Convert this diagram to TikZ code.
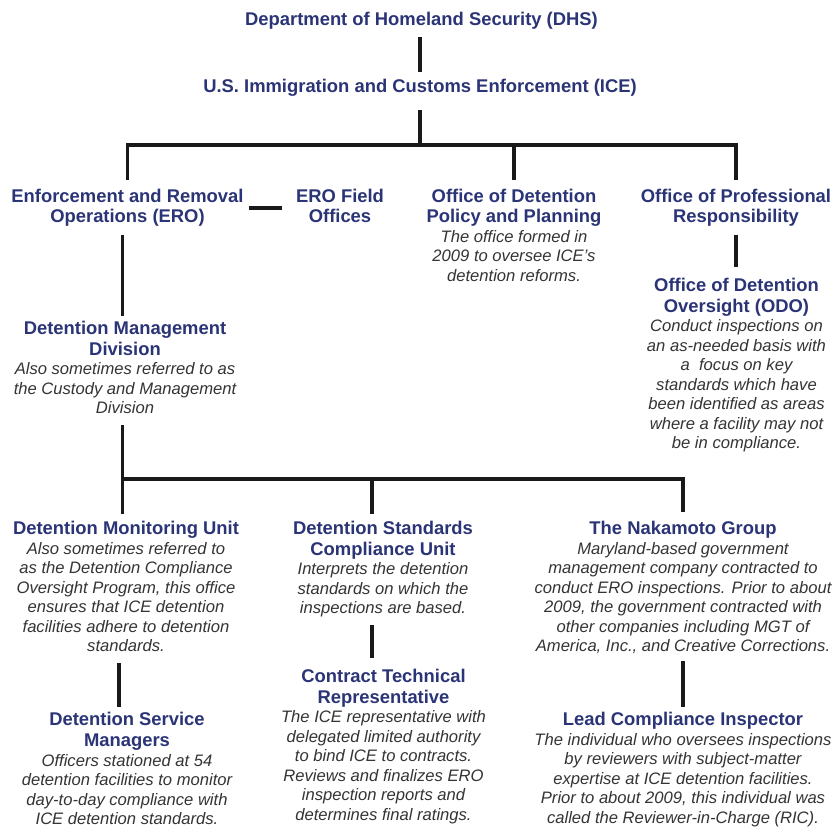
\documentclass[tikz,border=0pt]{standalone}
\usepackage{fontspec}
\setmainfont{Liberation Sans}
\definecolor{navy}{RGB}{42,52,118}
\definecolor{descgray}{RGB}{52,52,52}
\definecolor{linecol}{RGB}{25,25,25}
\newcommand\unittitle[1]{{\fontsize{18.4}{20.7}\selectfont\bfseries\upshape\color{navy}#1}}
\tikzset{
  unit/.style={align=center, inner sep=0pt, outer sep=0pt, anchor=north,
    font=\fontsize{16.6}{19.5}\selectfont\itshape, text=descgray},
  link/.style={draw=linecol, line width=3.8pt, line join=miter}
}
\begin{document}
\begin{tikzpicture}[x=1pt,y=-1pt]
\useasboundingbox[fill=white] (0,0) rectangle (837,828);

\node[unit] (dhs) at (421.5,11.8) {\unittitle{Department of Homeland Security (DHS)}};
\node[unit] (ice) at (420,78.8) {\unittitle{U.S. Immigration and Customs Enforcement (ICE)}};
\node[unit] (ero) at (127.5,188.8) {\unittitle{Enforcement and Removal}\\[1.2pt]\unittitle{Operations (ERO)}};
\node[unit] (fo) at (340,188.8) {\unittitle{ERO Field}\\[1.2pt]\unittitle{Offices}};
\node[unit] (odpp) at (514,188.8) {\unittitle{Office of Detention}\\[1.2pt]\unittitle{Policy and Planning}\\The office formed in\\2009 to oversee ICE’s\\detention reforms.};
\node[unit] (opr) at (736,188.8) {\unittitle{Office of Professional}\\[1.2pt]\unittitle{Responsibility}};
\node[unit] (odo) at (736.5,278.4) {\unittitle{Office of Detention}\\[1.2pt]\unittitle{Oversight (ODO)}\\Conduct inspections on\\an as-needed basis with\\a\ \ focus on key\\standards which have\\been identified as areas\\where a facility may not\\be in compliance.};
\node[unit] (dmd) at (125,321.4) {\unittitle{Detention Management}\\[1.2pt]\unittitle{Division}\\Also sometimes referred to as\\the Custody and Management\\Division};
\node[unit] (dmu) at (126,521.4) {\unittitle{Detention Monitoring Unit}\\Also sometimes referred to\\as the Detention Compliance\\Oversight Program, this office\\ensures that ICE detention\\facilities adhere to detention\\standards.};
\node[unit] (dscu) at (383,521.4) {\unittitle{Detention Standards}\\[1.2pt]\unittitle{Compliance Unit}\\Interprets the detention\\standards on which the\\inspections are based.};
\node[unit] (tng) at (683,521.4) {\unittitle{The Nakamoto Group}\\Maryland-based government\\management company contracted to\\conduct ERO inspections. Prior to about\\2009, the government contracted with\\other companies including MGT of\\America, Inc., and Creative Corrections.};
\node[unit] (dsm) at (127,712.6) {\unittitle{Detention Service}\\[1.2pt]\unittitle{Managers}\\Officers stationed at 54\\detention facilities to monitor\\day-to-day compliance with\\ICE detention standards.};
\node[unit] (ctr) at (383.5,669.4) {\unittitle{Contract Technical}\\[1.2pt]\unittitle{Representative}\\The ICE representative with\\delegated limited authority\\to bind ICE to contracts.\\Reviews and finalizes ERO\\inspection reports and\\determines final ratings.};
\node[unit] (lci) at (683,712.6) {\unittitle{Lead Compliance Inspector}\\The individual who oversees inspections\\by reviewers with subject-matter\\expertise at ICE detention facilities.\\Prior to about 2009, this individual was\\called the Reviewer-in-Charge (RIC).};

\coordinate (tb) at (420,145);
\coordinate (mb) at (372,479);
\coordinate (xA) at (122.5,0);
\coordinate (xB) at (119,0);

\draw[link, shorten <=8pt, shorten >=7pt] (dhs.south -| ice.north) -- (ice.north);
\draw[link, shorten <=14pt] (ice.south) -- (tb);
\draw[link] ([yshift=9pt]ero.north) |- (tb) -| ([yshift=9pt]opr.north);
\draw[link] (tb -| odpp.north) -- ([yshift=9pt]odpp.north);
\draw[link, shorten <=5pt, shorten >=14pt] (ero.east) -- (ero.east -| fo.west);
\draw[link, shorten <=8pt, shorten >=11.4pt] (opr.south) -- (odo.north -| opr.south);
\draw[link, shorten <=8pt, shorten >=5.4pt] (ero.south -| xA) -- (dmd.north -| xA);
\draw[link, shorten <=11pt, shorten >=7pt] (dmd.south -| xA) -- (dmu.north -| xA);
\draw[link] (xA |- mb) -- (mb) -| ([yshift=9pt]tng.north);
\draw[link, shorten >=7pt] (mb) -- (mb |- dscu.north);
\draw[link, shorten <=11pt, shorten >=6pt] (dmu.south -| xB) -- (dsm.north -| xB);
\draw[link, shorten <=7.5pt, shorten >=11.4pt] (dscu.south -| mb) -- (ctr.north -| mb);
\draw[link, shorten <=7.5pt, shorten >=6pt] (tng.south) -- (lci.north);
\end{tikzpicture}
\end{document}
